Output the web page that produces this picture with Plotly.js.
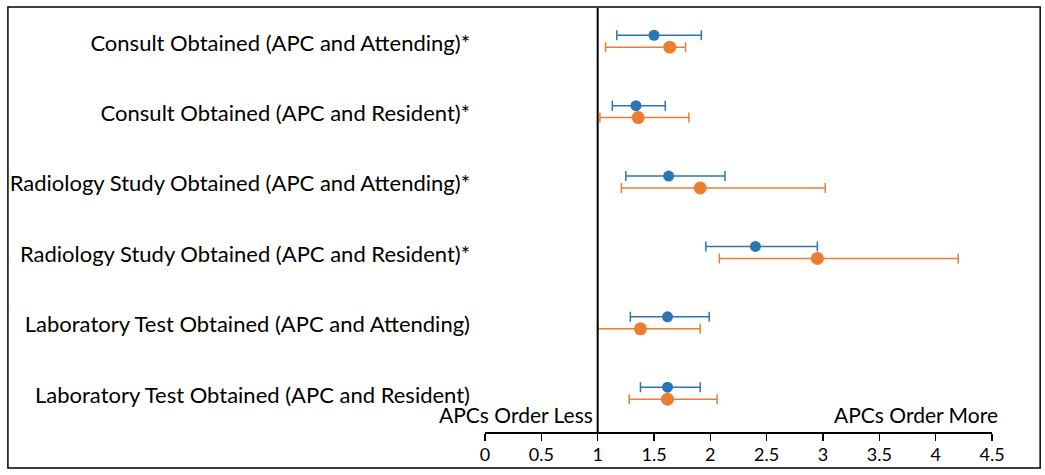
<!DOCTYPE html>
<html><head><meta charset="utf-8">
<script src="https://cdn.plot.ly/plotly-3.0.1.min.js"></script>
<style>body{margin:0;padding:0;background:#fff}#chart{width:1045px;height:475px}</style>
</head><body><div id="chart"></div>
<script>
const categories = [
  "Consult Obtained (APC and Attending)*",
  "Consult Obtained (APC and Resident)*",
  "Radiology Study Obtained (APC and Attending)*",
  "Radiology Study Obtained (APC and Resident)*",
  "Laboratory Test Obtained (APC and Attending)",
  "Laboratory Test Obtained (APC and Resident)"
];
const blueEst   = [1.50, 1.34, 1.63, 2.40, 1.62, 1.62];
const blueLow   = [1.17, 1.13, 1.25, 1.96, 1.29, 1.38];
const blueHigh  = [1.92, 1.60, 2.13, 2.95, 1.99, 1.91];
const orangeEst = [1.64, 1.36, 1.91, 2.95, 1.38, 1.62];
const orangeLow = [1.07, 1.02, 1.21, 2.08, 1.00, 1.28];
const orangeHigh= [1.78, 1.81, 3.02, 4.20, 1.91, 2.06];
const xTicks = [0, 0.5, 1, 1.5, 2, 2.5, 3, 3.5, 4, 4.5];

const idx = categories.map((_, i) => i);
function trace(est, lo, hi, color, size, off) {
  return {
    type: 'scatter', mode: 'markers',
    x: est, y: idx.map(i => i + off),
    marker: {color: color, size: size},
    error_x: {type: 'data', symmetric: false,
      array: est.map((v, i) => hi[i] - v),
      arrayminus: est.map((v, i) => v - lo[i]),
      color: color, thickness: 1.5, width: 5},
    showlegend: false, hoverinfo: 'x'
  };
}
const data = [
  trace(blueEst, blueLow, blueHigh, '#2E75B6', 11, -0.11),
  trace(orangeEst, orangeLow, orangeHigh, '#ED7D31', 13, 0.06)
];
const font = "Lato, 'Open Sans', sans-serif";
const layout = {
  width: 1045, height: 475,
  margin: {l: 485, r: 53, t: 8, b: 43},
  paper_bgcolor: '#fff', plot_bgcolor: '#fff',
  font: {family: font, color: '#000'},
  xaxis: {range: [0, 4.5], tickvals: xTicks, ticktext: xTicks.map(String),
    showgrid: false, zeroline: false, showline: true, linecolor: '#000', linewidth: 1.5,
    ticks: 'outside', ticklen: 7, tickwidth: 1.5, tickcolor: '#000',
    tickfont: {size: 18, family: font}, ticklabelstandoff: -1, fixedrange: true},
  yaxis: {range: [5.526, -0.497], tickvals: idx, ticktext: categories,
    showgrid: false, zeroline: false, showline: false, ticks: '',
    tickfont: {size: 22, family: font}, ticklabelstandoff: 14, fixedrange: true},
  shapes: [
    {type: 'line', xref: 'x', yref: 'paper', x0: 1, x1: 1, y0: 0, y1: 1.0,
     line: {color: '#000', width: 2}},
    {type: 'rect', xref: 'paper', yref: 'paper', x0: -0.941, x1: 1.095, y0: -0.085, y1: 1.0024,
     line: {color: '#000', width: 1.5}}
  ],
  annotations: [
    {text: 'APCs Order Less', xref: 'x', yref: 'paper', x: 1, y: 0.0, xanchor: 'right', yanchor: 'bottom',
     showarrow: false, xshift: -3, yshift: 3, font: {size: 21, family: font}},
    {text: 'APCs Order More', xref: 'x', yref: 'paper', x: 4.5, y: 0.0, xanchor: 'right', yanchor: 'bottom',
     showarrow: false, xshift: 8, yshift: 3, font: {size: 21, family: font}}
  ]
};
Plotly.newPlot('chart', data, layout, {displayModeBar: false, staticPlot: true});
</script></body></html>
